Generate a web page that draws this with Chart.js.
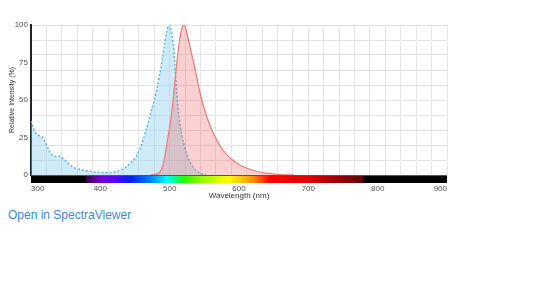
<!DOCTYPE html>
<html>
<head>
<meta charset="utf-8">
<script src="https://cdn.jsdelivr.net/npm/chart.js@4"></script>
<style>
  html, body { margin: 0; padding: 0; background: #fff; width: 554px; height: 299px; overflow: hidden; }
  #wrap { position: absolute; left: 0; top: 0; width: 554px; height: 205px; }
  #link { position: absolute; left: 8px; top: 208px; font-family: "Liberation Sans", Arial, sans-serif; font-size: 12px; color: #3a8de2; text-decoration: none; }
</style>
</head>
<body>
<div id="wrap"><canvas id="c"></canvas></div>
<a id="link" href="#">Open in SpectraViewer</a>
<script>
// Excitation spectrum (dotted blue)
const excitationWavelengths = [300,303,306,310,314,318,322,326,330,334,338,342,346,350,356,362,368,375,382,390,400,410,420,428,436,443,450,455,460,464,468,472,476,480,484,488,491,494,497,499.5,502,505,508,511,514,518,522,526,530,535,540,546,553];
const excitationValues     = [36,32,28.5,26.5,26,24,20.5,16.5,13.5,12.3,12.8,12.5,11,9.5,6.8,5,4,3.2,2.7,2.1,1.6,1.5,1.9,3,5,7.8,11,15.5,21,27,33,40,47,54,63,73,82,91,98,100,96,88,70,50,37,26,18,12,8,4.5,2.3,0.8,0];
// Emission spectrum (solid red)
const emissionWavelengths = [472,478,484,488,492,496,500,503,506,509,512,515,518,520,523,526,529,532,536,540,545,550,555,560,566,572,578,585,592,600,610,620,630,640,650,660,670,680];
const emissionValues      = [0,0.4,1.2,3.5,10,21,32,42,55,69,82,92,98,100,98,92,86,80,72,63,52.5,44,37,31,25,20,16,12.3,9.5,7,4.8,3.2,2,1.2,0.6,0.3,0.1,0];
// Axis ticks
const xTickLabels = [300,400,500,600,700,800,900];
const yTickLabels = [0,25,50,75,100];

const toXY = (xs, ys) => xs.map((x, i) => ({x, y: ys[i]}));

const spectrumStops = [
  [300,'#000000'],[379.9,'#000000'],[380,'#3a0050'],[400,'#7a00c8'],[420,'#5a00ff'],[445,'#0020ff'],
  [475,'#0090ff'],[497,'#00ffff'],[507,'#00ff90'],[520,'#20ff00'],[545,'#90ff00'],[585,'#ffff00'],
  [620,'#ff9000'],[645,'#ff0000'],[700,'#e00000'],[779,'#600000'],[780,'#000000'],[900,'#000000']
];

const colorBar = {
  id: 'colorBar',
  afterDraw(chart) {
    const {ctx, chartArea, scales} = chart;
    const xs = scales.x;
    const g = ctx.createLinearGradient(chartArea.left, 0, chartArea.right, 0);
    spectrumStops.forEach(([w, c]) => {
      const p = (xs.getPixelForValue(w) - chartArea.left) / (chartArea.right - chartArea.left);
      g.addColorStop(Math.min(1, Math.max(0, p)), c);
    });
    ctx.save();
    ctx.fillStyle = g;
    ctx.fillRect(chartArea.left, chartArea.bottom + 1, chartArea.right - chartArea.left, 7);
    ctx.fillStyle = '#555';
    ctx.fillRect(chartArea.left, chartArea.bottom, chartArea.right - chartArea.left, 1);
    ctx.restore();
  }
};

const font = "'Liberation Sans', Arial, sans-serif";

new Chart(document.getElementById('c'), {
  type: 'line',
  data: {
    datasets: [
      {
        label: 'Excitation',
        data: toXY(excitationWavelengths, excitationValues),
        borderColor: '#5ab8e8',
        borderWidth: 1.5,
        borderDash: [2, 2],
        backgroundColor: 'rgba(135,206,235,0.4)',
        fill: 'origin',
        pointRadius: 0,
        tension: 0.4,
        order: 2
      },
      {
        label: 'Emission',
        data: toXY(emissionWavelengths, emissionValues),
        borderColor: '#f07a7a',
        borderWidth: 1.2,
        backgroundColor: 'rgba(240,100,100,0.3)',
        fill: 'origin',
        pointRadius: 0,
        tension: 0.4,
        order: 1
      }
    ]
  },
  options: {
    responsive: true,
    maintainAspectRatio: false,
    animation: false,
    layout: { padding: { top: 25, right: 107, left: 0, bottom: 0 } },
    plugins: { legend: { display: false }, tooltip: { enabled: false } },
    scales: {
      x: {
        type: 'linear', position: 'bottom', min: 300, max: 900,
        grid: { display: false, drawTicks: false },
        border: { display: false },
        afterBuildTicks: s => { s.ticks = xTickLabels.map(v => ({value: v})); },
        ticks: { autoSkip: false, maxRotation: 0, padding: 9, align: 'inner', color: '#555', font: { family: font, size: 8 } },
        title: { display: true, text: 'Wavelength (nm)', color: '#333', font: { family: font, size: 8 }, padding: { top: 0, bottom: 4 } },
        afterFit: s => { s.height = 30; }
      },
      x2: {
        type: 'linear', position: 'top', min: 300, max: 900,
        afterBuildTicks: s => { s.ticks = Array.from({length: 28}, (_, i) => ({value: 300 + i * 600 / 27})); },
        ticks: { display: false },
        grid: { color: '#e6e6e6', lineWidth: 1, drawTicks: false },
        border: { display: false },
        afterFit: s => { s.height = 0; }
      },
      y: {
        min: 0, max: 100,
        afterBuildTicks: s => { s.ticks = Array.from({length: 11}, (_, i) => ({value: i * 10})).concat(yTickLabels.filter(v => v % 10 !== 0).map(v => ({value: v}))).sort((a,b)=>a.value-b.value); },
        ticks: {
          autoSkip: false, padding: 3, color: '#555', font: { family: font, size: 8 },
          callback: v => (yTickLabels.includes(v) ? String(v) : '')
        },
        grid: { drawTicks: false, color: c => (c.tick && c.tick.value % 10 === 0 ? '#e6e6e6' : 'rgba(0,0,0,0)') },
        border: { display: true, color: '#222', width: 2 },
        title: { display: true, text: 'Relative Intensity (%)', color: '#333', font: { family: font, size: 7 }, padding: { top: 8, bottom: 0 } },
        afterFit: s => { s.width = 31; }
      }
    }
  },
  plugins: [colorBar]
});
</script>
</body>
</html>
